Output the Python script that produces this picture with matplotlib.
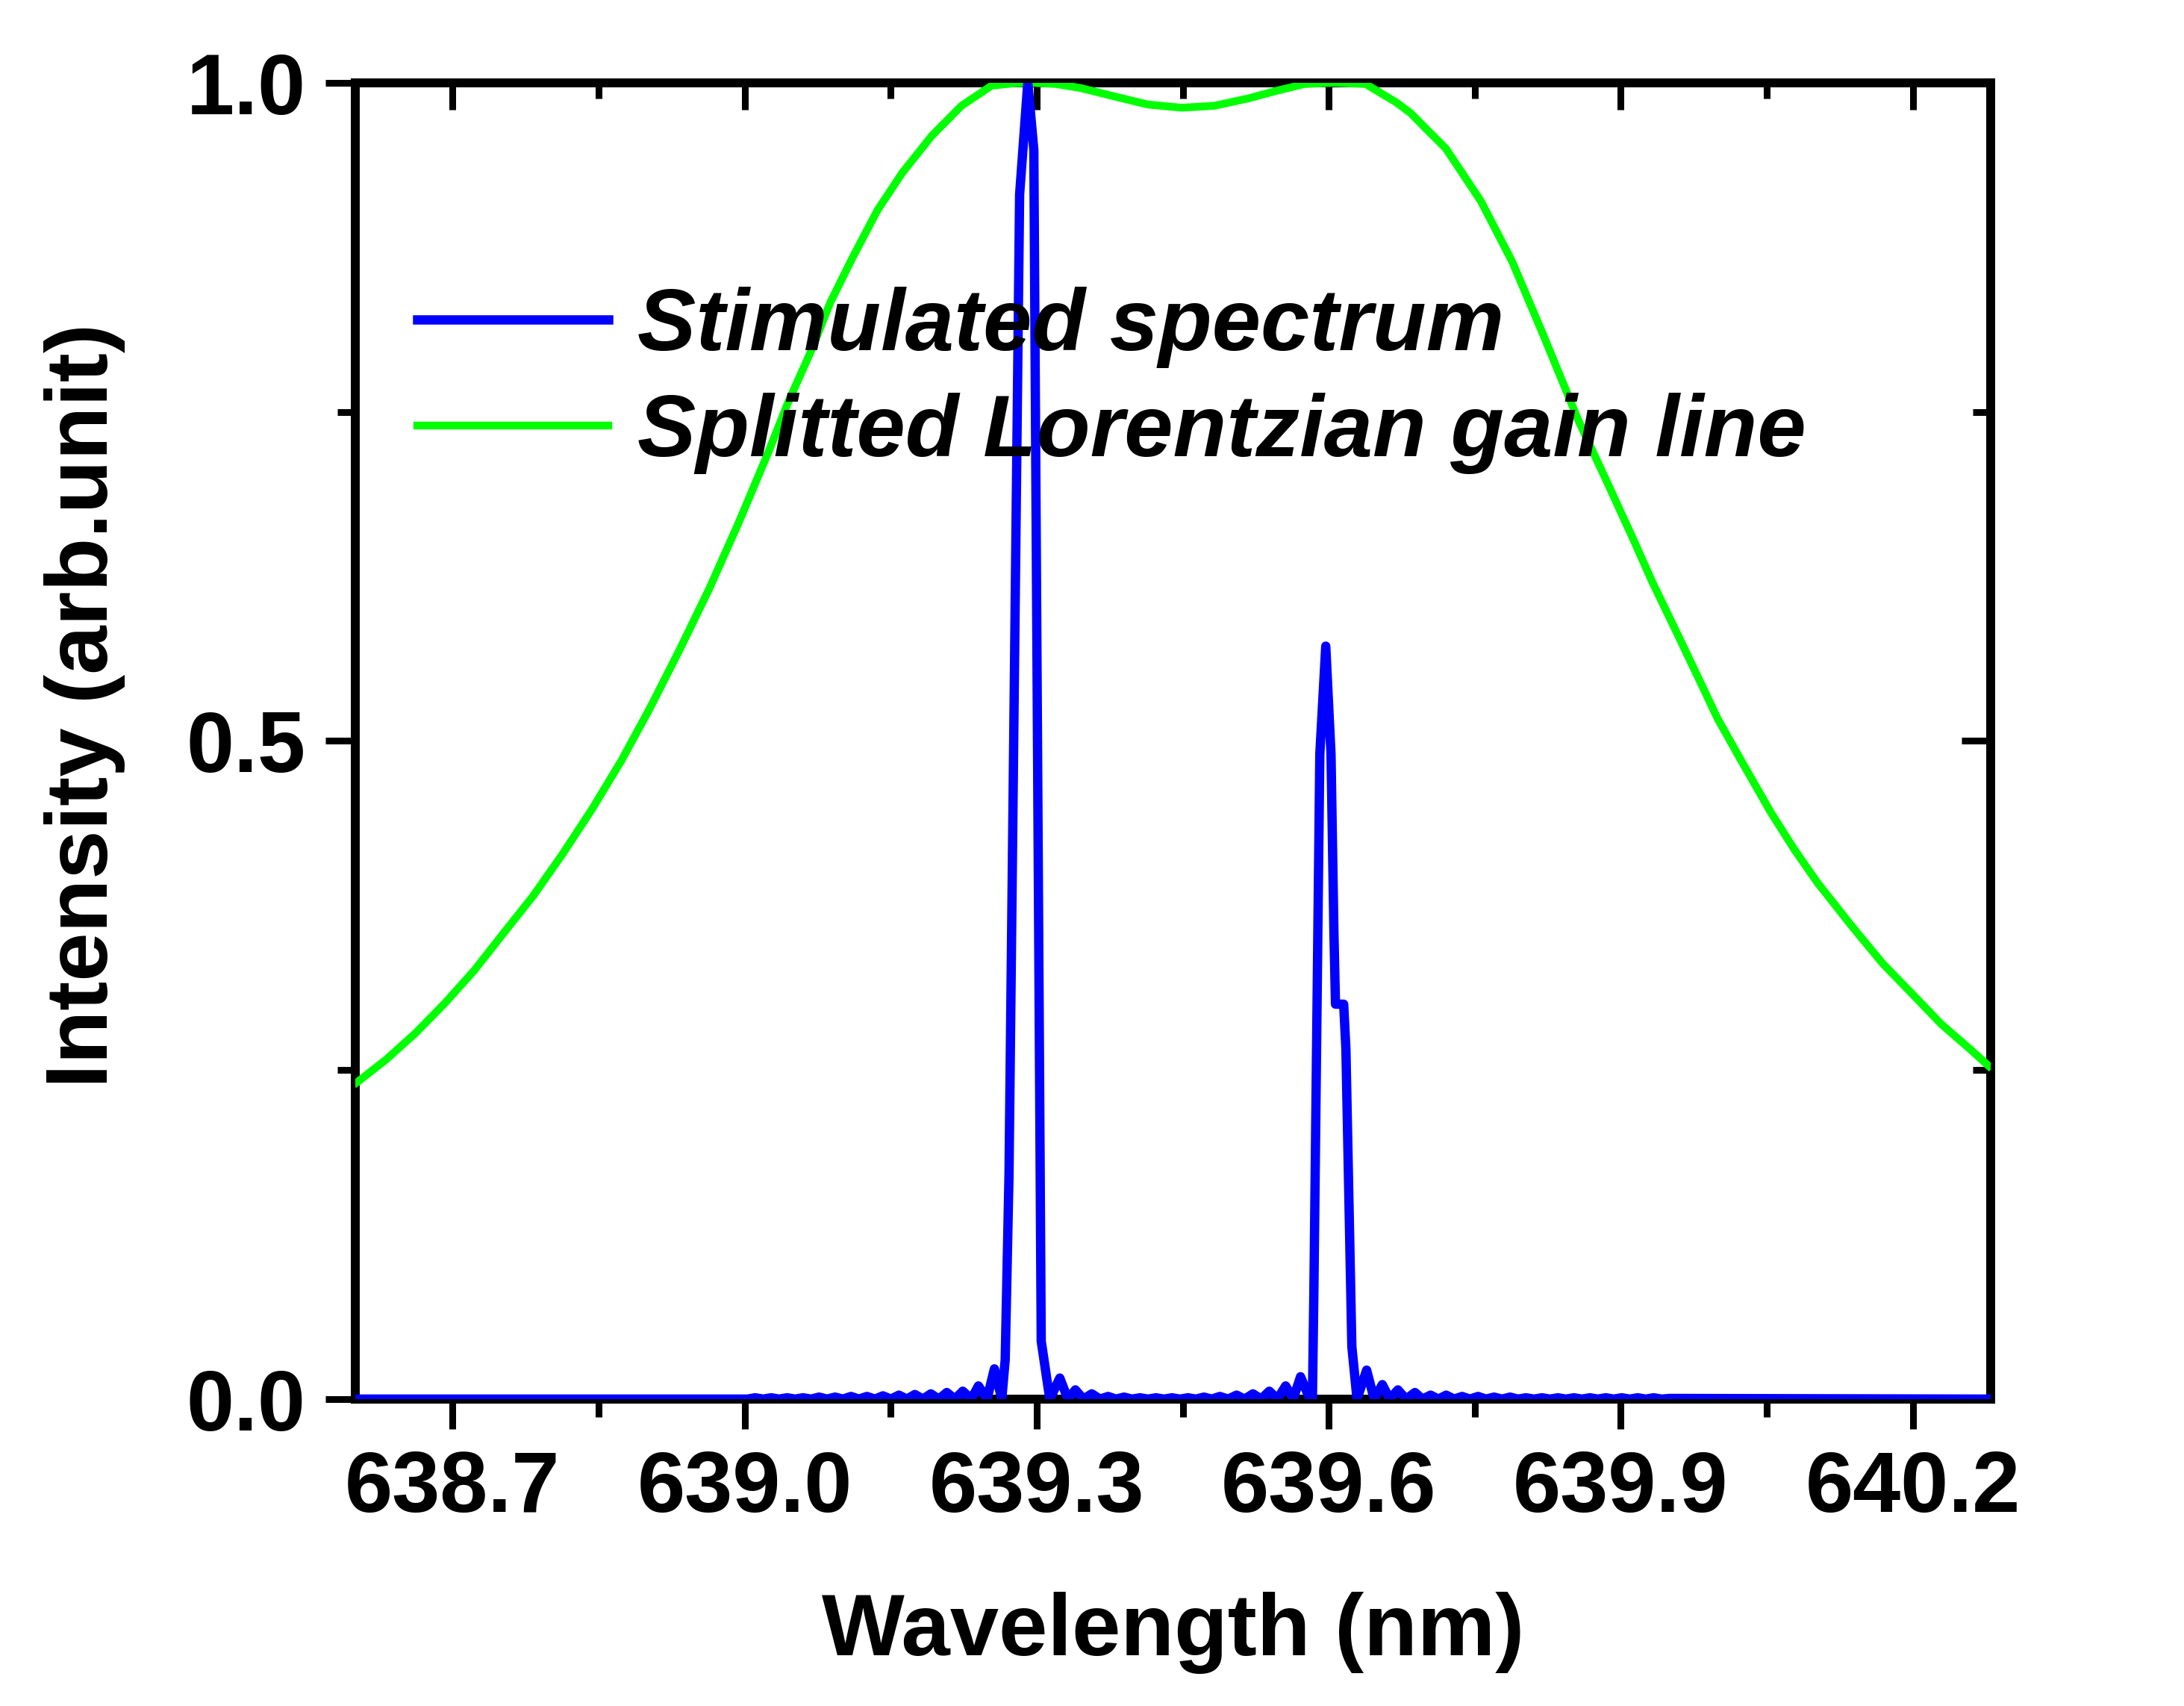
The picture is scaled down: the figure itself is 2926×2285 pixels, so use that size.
import matplotlib
matplotlib.use("Agg")
import matplotlib.pyplot as plt
from matplotlib.ticker import MultipleLocator, FixedLocator

plt.rcParams['font.family'] = ['Liberation Sans', 'DejaVu Sans']
plt.rcParams['font.weight'] = 'bold'

# splitted Lorentzian gain line
green_x = [638.6015, 638.6317, 638.6618, 638.692, 638.7221, 638.7523,
           638.7824, 638.8128, 638.843, 638.8733, 638.9034, 638.9336,
           638.9638, 638.9939, 639.0241, 639.0448, 639.0677, 639.088,
           639.1109, 639.1364, 639.1618, 639.1924, 639.2229, 639.2534,
           639.275, 639.295, 639.32, 639.345, 639.3832, 639.4137,
           639.4492, 639.4824, 639.5168, 639.547, 639.575, 639.605,
           639.638, 639.6695, 639.684, 639.70, 639.7203, 639.7563,
           639.7885, 639.82, 639.8567, 639.8875, 639.9117, 639.9328,
           639.957, 639.9813, 639.9994, 640.0237, 640.0539, 640.0781,
           640.1023, 640.1387, 640.1689, 640.1991, 640.2294, 640.2595,
           640.278]
green_y = [0.2405, 0.258, 0.278, 0.3008, 0.3256, 0.354,
           0.382, 0.414, 0.448, 0.485, 0.526, 0.570,
           0.616, 0.666, 0.719, 0.7576, 0.7954, 0.8332,
           0.8673, 0.9032, 0.9315, 0.9599, 0.9826, 0.9977,
           0.9995, 1.000, 0.999, 0.996, 0.989, 0.9835,
           0.981, 0.9825, 0.988, 0.994, 0.999, 1.000,
           0.999, 0.985, 0.977, 0.965, 0.950, 0.910,
           0.864, 0.809, 0.743, 0.694, 0.655, 0.620,
           0.583, 0.5453, 0.517, 0.485, 0.446, 0.4177,
           0.392, 0.358, 0.331, 0.308, 0.2847, 0.2654,
           0.253]

# stimulated spectrum
blue_x = [638.600, 639.003,
          639.0108, 639.019, 639.0272, 639.0354, 639.0436, 639.0518,
          639.0600, 639.0682, 639.0764, 639.0846, 639.0928, 639.1010,
          639.1092, 639.1174, 639.1256, 639.1338, 639.1420, 639.1502,
          639.1584, 639.1666, 639.1748, 639.1830, 639.1912, 639.1994,
          639.2076, 639.2160, 639.2240, 639.2328, 639.2401, 639.2489,
          639.2565, 639.2641,
          639.2676, 639.2715, 639.2824, 639.2908, 639.2970, 639.3046, 639.3134,
          639.3237, 639.3320, 639.3397, 639.3480, 639.3565, 639.3650,
          639.3733, 639.3815, 639.3897, 639.3979, 639.4061, 639.4143,
          639.4225, 639.4307, 639.4389, 639.4471, 639.4553, 639.4635,
          639.4717, 639.4799, 639.4881, 639.4967, 639.5053, 639.5137,
          639.5221, 639.5305, 639.5389, 639.5473, 639.5557, 639.5634,
          639.5710, 639.5794,
          639.5832, 639.5847, 639.5908, 639.5969, 639.6023, 639.6053,
          639.6069, 639.6153, 639.6176, 639.6237, 639.6290,
          639.6389, 639.6466, 639.6550, 639.6626, 639.6710, 639.6794,
          639.6885, 639.6962, 639.7046, 639.7126, 639.7206, 639.7288,
          639.7370, 639.7450, 639.7534, 639.7616, 639.7698, 639.7780,
          639.7862, 639.7944, 639.8026, 639.8108, 639.8190, 639.8272,
          639.8354, 639.8436, 639.8518, 639.8600, 639.8682, 639.8764,
          639.8846, 639.8928, 639.9010, 639.9092, 639.9174, 639.9256,
          639.9338, 639.9420, 639.9500, 640.280]
blue_y = [0.0, 0.0,
          0.001, 0.0, 0.001, 0.0, 0.001, 0.0,
          0.001, 0.0, 0.0015, 0.0, 0.0015, 0.0,
          0.002, 0.0, 0.002, 0.0, 0.0025, 0.0,
          0.003, 0.0, 0.0035, 0.0, 0.004, 0.0,
          0.005, 0.0, 0.006, 0.0, 0.010, 0.0,
          0.023, 0.0,
          0.03, 0.17, 0.915, 1.0, 0.949, 0.044, 0.0,
          0.016, 0.0, 0.007, 0.0, 0.004, 0.0,
          0.002, 0.0, 0.0015, 0.0, 0.001, 0.0,
          0.001, 0.0, 0.001, 0.0, 0.001, 0.0,
          0.0015, 0.0, 0.002, 0.0, 0.003, 0.0,
          0.004, 0.0, 0.006, 0.0, 0.010, 0.0,
          0.017, 0.002,
          0.0, 0.082, 0.49, 0.572, 0.49, 0.354,
          0.30, 0.30, 0.266, 0.04, 0.0,
          0.022, 0.0, 0.011, 0.0, 0.007, 0.0,
          0.005, 0.0, 0.003, 0.0, 0.003, 0.0,
          0.002, 0.0, 0.002, 0.0, 0.0015, 0.0,
          0.0015, 0.0, 0.001, 0.0, 0.001, 0.0,
          0.001, 0.0, 0.001, 0.0, 0.001, 0.0,
          0.001, 0.0, 0.001, 0.0, 0.001, 0.0,
          0.001, 0.0, 0.0005, 0.0]

x_major = [638.7, 639.0, 639.3, 639.6, 639.9, 640.2]
x_labels = ['638.7', '639.0', '639.3', '639.6', '639.9', '640.2']
y_major = [0.0, 0.5, 1.0]
y_labels = ['0.0', '0.5', '1.0']
y_minor = [0.25, 0.75]

FS_TICK = 83
FS = 84.5
LW_AX = 8.6

fig = plt.figure(figsize=(29.26, 22.85), dpi=100)
ax = fig.add_axes([0.1627, 0.1799, 0.7488, 0.7716])

green_line, = ax.plot(green_x, green_y, color='#00ff00', lw=7.5, zorder=3,
                      label='Splitted Lorentzian gain line')
blue_line, = ax.plot(blue_x, blue_y, color='#0000ff', lw=9, zorder=4,
                     label='Stimulated spectrum')

ax.set_xlim(638.6, 640.28)
ax.set_ylim(0.0, 1.0)

ax.set_xticks(x_major)
ax.set_xticklabels(x_labels)
ax.xaxis.set_minor_locator(MultipleLocator(0.15))
ax.set_yticks(y_major)
ax.set_yticklabels(y_labels)
ax.yaxis.set_minor_locator(FixedLocator(y_minor))

for sp in ax.spines.values():
    sp.set_linewidth(LW_AX)

ax.tick_params(which='both', direction='out', width=6.5, labelsize=FS_TICK,
               pad=19, top=False, right=False)
ax.tick_params(which='major', length=29)
ax.tick_params(which='minor', length=17)

# inward ticks on the top and right sides
top = ax.secondary_xaxis('top')
top.set_xticks(x_major)
top.xaxis.set_minor_locator(MultipleLocator(0.15))
top.tick_params(which='both', direction='in', width=6.5, labeltop=False)
top.tick_params(which='major', length=26)
top.tick_params(which='minor', length=15)

right = ax.secondary_yaxis('right')
right.set_yticks(y_major)
right.yaxis.set_minor_locator(FixedLocator(y_minor))
right.tick_params(which='both', direction='in', width=6.5, labelright=False)
right.tick_params(which='major', length=28)
right.tick_params(which='minor', length=17)

for sec in (top, right):
    for sp in sec.spines.values():
        sp.set_visible(False)

ax.set_xlabel('Wavelength (nm)', fontsize=FS, fontweight='bold')
ax.xaxis.set_label_coords(0.5, -0.1465)
ax.set_ylabel('Intensity (arb.unit)', fontsize=FS, fontweight='bold')
ax.yaxis.set_label_coords(-0.1406, 0.527)

ax.legend(handles=[blue_line, green_line], loc='upper left',
          bbox_to_anchor=(0.038, 0.845), frameon=False,
          prop={'style': 'italic', 'weight': 'bold', 'size': FS},
          handlelength=2.18, handletextpad=0.33, labelspacing=0.28,
          borderpad=0, borderaxespad=0)

fig.savefig('out.png', dpi=100)
